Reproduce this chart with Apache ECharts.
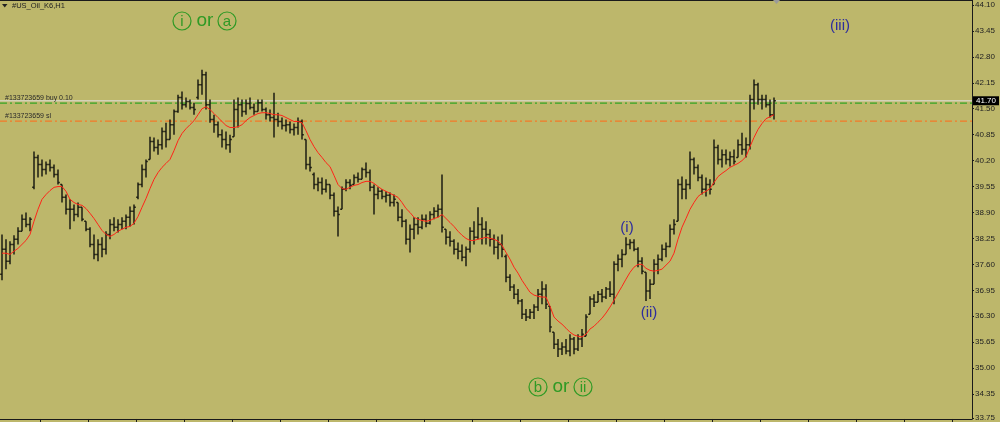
<!DOCTYPE html>
<html><head><meta charset="utf-8">
<script src="https://cdn.jsdelivr.net/npm/echarts@6/dist/echarts.min.js"></script>
<style>html,body{margin:0;padding:0;background:#BDB76B;}#c{width:1000px;height:422px;}</style>
</head><body><div id="c"></div>
<script>
// price axis tick labels
const tickLabels = [33.75, 34.35, 35.00, 35.65, 36.30, 36.95, 37.60, 38.25, 38.90, 39.55, 40.20, 40.85, 41.50, 42.15, 42.80, 43.45, 44.10];
// OHLC bars (H1)
const highs = [38.35,38.23,38.18,38.33,38.53,38.85,38.90,38.78,40.43,40.35,
40.23,40.18,40.23,40.10,39.98,39.60,39.35,39.23,39.10,39.15,
39.03,38.68,38.53,38.35,38.23,38.28,38.43,38.73,38.78,38.73,
38.78,38.85,39.05,39.10,39.65,40.10,40.23,40.80,40.78,40.73,
41.03,41.15,41.23,41.48,41.85,41.93,41.78,41.73,41.65,42.23,
42.48,42.43,41.73,41.35,41.18,40.98,40.93,40.85,41.73,41.78,
41.73,41.73,41.78,41.63,41.73,41.73,41.53,41.48,41.90,41.40,
41.28,41.23,41.18,41.13,41.28,41.23,40.73,40.30,39.90,39.78,
39.78,39.73,39.60,39.40,39.05,39.55,39.73,39.73,39.85,39.90,
40.03,40.15,39.98,39.60,39.53,39.48,39.43,39.40,39.35,39.15,
38.98,38.73,38.60,38.78,38.78,38.85,38.85,38.93,39.03,39.10,
39.85,38.48,38.43,38.23,38.15,38.10,38.05,38.53,38.68,39.03,
38.78,38.68,38.48,38.35,38.30,38.35,37.85,37.35,37.10,36.98,
36.73,36.48,36.48,36.60,36.98,37.18,37.10,36.55,35.90,35.73,
35.65,35.73,35.85,35.78,35.85,35.98,36.35,36.80,36.85,36.93,
36.98,37.03,37.18,37.68,37.85,37.98,38.28,38.23,38.23,38.03,
37.78,37.40,37.23,37.73,37.85,38.10,38.15,38.60,38.73,39.73,
39.80,39.73,40.43,40.28,40.10,39.85,39.78,39.73,40.73,40.60,
40.48,40.48,40.43,40.48,40.73,40.90,40.78,41.85,42.23,42.15,
41.85,41.85,41.73,41.78];
const lows = [37.20,37.48,37.60,37.85,38.10,38.43,38.53,38.43,39.48,39.78,
39.80,39.85,39.93,39.78,39.60,39.15,38.85,38.48,38.68,38.78,
38.68,38.43,38.03,37.73,37.68,37.78,37.85,38.23,38.43,38.40,
38.48,38.48,38.55,38.60,39.23,39.53,39.78,40.23,40.43,40.35,
40.48,40.53,40.73,40.85,41.40,41.48,41.53,41.48,41.35,41.73,
41.85,41.48,41.15,40.90,40.78,40.53,40.48,40.40,40.80,41.03,
41.30,41.35,41.48,41.35,41.43,41.43,41.23,41.18,40.78,41.05,
40.98,40.93,40.88,40.83,40.85,40.73,39.98,39.93,39.48,39.43,
39.35,39.40,39.23,38.80,38.30,38.98,39.43,39.48,39.60,39.65,
39.73,39.78,39.43,38.85,39.23,39.23,39.15,39.05,39.05,38.68,
38.53,38.10,37.90,38.23,38.35,38.48,38.53,38.60,38.73,38.78,
38.40,38.10,38.05,37.85,37.73,37.68,37.55,37.90,38.10,38.23,
38.10,38.10,38.05,37.85,37.73,37.78,37.15,36.93,36.73,36.60,
36.23,36.18,36.23,36.23,36.43,36.60,36.48,35.90,35.48,35.28,
35.33,35.35,35.30,35.35,35.43,35.53,35.80,36.35,36.53,36.65,
36.65,36.73,36.78,36.60,37.43,37.53,37.85,37.98,37.93,37.53,
37.35,36.68,36.73,37.10,37.35,37.68,37.78,38.03,38.35,38.68,
39.23,39.23,39.48,39.85,39.68,39.35,39.30,39.35,39.60,40.10,
40.03,40.10,40.05,40.10,40.28,40.35,40.28,40.48,41.48,41.60,
41.48,41.53,41.28,41.23];
const opens = [37.35,37.98,37.68,38.10,38.23,38.43,38.73,38.60,39.53,40.28,
40.10,39.98,40.10,40.03,39.85,39.60,39.28,38.98,38.98,38.85,
39.03,38.68,38.48,38.10,37.85,38.10,37.98,38.35,38.60,38.53,
38.60,38.68,38.78,38.93,39.28,39.60,39.98,40.23,40.68,40.53,
40.60,40.93,40.73,41.10,41.43,41.78,41.60,41.68,41.53,41.78,
42.10,42.35,41.60,41.23,41.10,40.85,40.73,40.60,40.80,41.48,
41.60,41.43,41.63,41.53,41.43,41.65,41.48,41.35,41.28,41.23,
41.18,41.08,41.10,40.98,41.03,41.18,40.73,40.10,39.85,39.60,
39.65,39.48,39.60,39.33,38.93,38.98,39.48,39.65,39.60,39.78,
39.73,39.98,39.90,39.53,39.35,39.43,39.30,39.33,39.15,39.15,
38.78,38.68,38.23,38.48,38.60,38.53,38.73,38.63,38.85,38.93,
38.98,38.48,38.28,38.18,37.98,37.93,37.78,37.98,38.43,38.28,
38.60,38.48,38.35,38.23,38.03,38.10,37.80,37.28,37.03,36.85,
36.68,36.35,36.28,36.40,36.53,36.85,36.98,36.55,35.90,35.60,
35.48,35.53,35.43,35.73,35.48,35.73,35.80,36.35,36.73,36.65,
36.85,36.78,36.98,36.85,37.60,37.73,37.85,38.10,38.15,37.98,
37.68,37.40,36.93,37.10,37.60,37.73,37.98,38.05,38.48,38.68,
39.60,39.48,39.60,40.23,40.03,39.78,39.48,39.60,39.60,40.53,
40.23,40.35,40.23,40.30,40.28,40.60,40.48,40.60,41.73,42.10,
41.73,41.73,41.60,41.35];
const closes = [37.98,37.68,38.10,38.23,38.43,38.73,38.60,38.73,40.28,40.10,
39.98,40.10,40.03,39.85,39.65,39.28,38.98,38.98,38.85,39.03,
38.73,38.48,38.10,37.85,38.10,37.98,38.35,38.60,38.53,38.60,
38.68,38.78,38.93,39.03,39.60,39.98,40.18,40.68,40.53,40.60,
40.93,40.73,41.10,41.43,41.78,41.60,41.68,41.53,41.48,42.10,
42.35,41.60,41.23,41.10,40.85,40.73,40.60,40.73,41.48,41.60,
41.43,41.63,41.53,41.43,41.65,41.48,41.35,41.28,41.23,41.18,
41.08,41.10,40.98,41.03,41.18,40.85,40.10,40.03,39.60,39.65,
39.48,39.60,39.33,38.93,38.85,39.48,39.65,39.58,39.78,39.73,
39.98,39.90,39.53,39.35,39.43,39.30,39.33,39.15,39.23,38.78,
38.68,38.23,38.48,38.60,38.53,38.73,38.63,38.85,38.93,38.98,
38.53,38.28,38.18,37.98,37.93,37.78,37.98,38.43,38.28,38.60,
38.48,38.35,38.23,38.03,38.10,37.98,37.28,37.03,36.85,36.68,
36.35,36.28,36.40,36.53,36.85,36.98,36.60,36.03,35.60,35.48,
35.53,35.43,35.73,35.48,35.73,35.85,36.28,36.73,36.65,36.85,
36.78,36.98,36.85,37.60,37.73,37.85,38.10,38.15,37.98,37.68,
37.43,36.93,37.10,37.60,37.73,37.98,38.05,38.48,38.60,39.60,
39.48,39.60,40.23,40.03,39.78,39.48,39.60,39.48,40.53,40.23,
40.35,40.23,40.30,40.18,40.60,40.48,40.60,41.73,42.10,41.73,
41.73,41.60,41.35,41.70];
// moving average (red)
const maValues = [37.88,37.88,37.85,37.93,38.00,38.10,38.20,38.35,38.68,38.98,
39.23,39.35,39.45,39.53,39.55,39.55,39.43,39.23,39.15,39.10,
39.08,39.00,38.88,38.75,38.60,38.45,38.35,38.30,38.35,38.43,
38.48,38.53,38.55,38.63,38.80,39.03,39.25,39.50,39.73,39.90,
40.03,40.13,40.23,40.45,40.70,40.88,41.00,41.10,41.20,41.35,
41.50,41.55,41.48,41.38,41.28,41.18,41.08,41.03,41.03,41.05,
41.10,41.20,41.28,41.33,41.38,41.40,41.40,41.38,41.35,41.35,
41.33,41.28,41.23,41.18,41.18,41.15,40.95,40.73,40.55,40.40,
40.28,40.15,40.05,39.83,39.60,39.50,39.48,39.53,39.58,39.60,
39.65,39.68,39.68,39.63,39.55,39.48,39.43,39.38,39.33,39.28,
39.15,39.00,38.90,38.78,38.73,38.70,38.68,38.70,38.75,38.78,
38.85,38.75,38.65,38.55,38.43,38.33,38.25,38.20,38.20,38.23,
38.25,38.28,38.25,38.23,38.18,38.08,37.90,37.73,37.53,37.38,
37.20,37.05,36.90,36.83,36.80,36.78,36.78,36.55,36.28,36.18,
36.10,36.00,35.90,35.83,35.80,35.78,35.85,35.98,36.05,36.15,
36.25,36.38,36.53,36.70,36.88,37.05,37.23,37.40,37.53,37.60,
37.60,37.50,37.45,37.43,37.45,37.48,37.58,37.68,37.88,38.23,
38.53,38.75,38.98,39.15,39.30,39.38,39.43,39.50,39.65,39.80,
39.88,39.95,40.03,40.08,40.13,40.20,40.30,40.55,40.78,40.98,
41.13,41.25,41.30,41.35];
// order lines
const bidPrice = 41.70;
const buyPrice = 41.64;
const slPrice = 41.19;
const totalSlots = 243;

const GREEN = '#2f9a25', BLUE = '#2d2d9e', BAR = '#1d1d12';
const barData = highs.map((h, i) => [i, opens[i], h, lows[i], closes[i]]);
const maData = maValues.map((v, i) => [i, v]);
const xTicks = [];
for (let k = 0; k < 20; k++) xTicks.push(9.5 + 12 * k);

const chart = echarts.init(document.getElementById('c'), null, {renderer: 'canvas'});
function circ(cx, cy, t) {
  return [
    {type: 'circle', shape: {cx: cx, cy: cy, r: 9}, style: {fill: 'none', stroke: GREEN, lineWidth: 1.2}, z: 100},
    {type: 'text', x: cx, y: cy + 0.5, style: {text: t, fill: GREEN, font: '15px "Liberation Sans"', textAlign: 'center', textVerticalAlign: 'middle'}, z: 100}
  ];
}
function txt(x, y, t, color, size, align) {
  return {type: 'text', x: x, y: y, style: {text: t, fill: color, font: size + 'px "Liberation Sans"', textAlign: align || 'center', textVerticalAlign: 'middle'}, z: 100};
}
const graphics = [].concat(
  circ(182, 21, 'i'), [txt(205, 21, 'or', GREEN, 19)], circ(227, 21, 'a'),
  circ(538, 387, 'b'), [txt(561, 387, 'or', GREEN, 19)], circ(583, 387, 'ii'),
  [txt(627, 228, '(i)', BLUE, 15), txt(649, 313, '(ii)', BLUE, 15), txt(840, 26, '(iii)', BLUE, 15)],
  [
    {type: 'line', shape: {x1: 0, y1: 0.5, x2: 972, y2: 0.5}, style: {stroke: '#1a1a1a', lineWidth: 1}, z: 100},
    {type: 'polygon', shape: {points: [[2, 4], [7.5, 4], [4.75, 7.5]]}, style: {fill: '#222'}, z: 100},
    txt(12, 6, '#US_Oil_K6,H1', '#222', 7.5, 'left'),
    {type: 'polygon', shape: {points: [[773, 0], [780, 0], [776.5, 4]]}, style: {fill: '#9a9a9a'}, z: 100}
  ]
);

function levelSeries(price, color, width, dash, label) {
  return {
    type: 'line', silent: true, z: 4, symbol: 'none', showSymbol: false,
    data: [[-0.5, price], [totalSlots - 0.5, price]],
    lineStyle: {color: color, width: width, type: dash},
    endLabel: label
  };
}

chart.setOption({
  animation: false,
  backgroundColor: '#BDB76B',
  grid: {left: 0, right: 28, top: 0, bottom: 2, containLabel: false},
  xAxis: {
    type: 'value', min: -0.5, max: totalSlots - 0.5,
    axisLine: {show: true, onZero: false, lineStyle: {color: '#1a1a1a', width: 1}},
    axisTick: {show: true, customValues: xTicks, length: 3, inside: false, lineStyle: {color: '#1a1a1a'}},
    axisLabel: {show: false}, splitLine: {show: false}
  },
  yAxis: {
    type: 'value', position: 'right', min: 33.725, max: 44.225,
    axisLine: {show: true, onZero: false, lineStyle: {color: '#1a1a1a', width: 1}},
    axisTick: {show: true, customValues: tickLabels, length: 2, lineStyle: {color: '#1a1a1a'}},
    axisLabel: {show: true, customValues: tickLabels, margin: 3, fontSize: 8, fontFamily: 'Liberation Sans', color: '#222',
      formatter: v => v.toFixed(2)},
    splitLine: {show: false}
  },
  series: [
    levelSeries(bidPrice, '#d4d2b8', 1.6, 'solid',
      {show: true, formatter: bidPrice.toFixed(2), backgroundColor: '#000', color: '#fff',
       fontSize: 8, fontFamily: 'Liberation Sans', padding: [1, 3, 0, 3], distance: 1}),
    levelSeries(buyPrice, '#35a526', 1.3, [7, 3, 2, 3], {show: false}),
    levelSeries(slPrice, '#f47a28', 1.3, [7, 3, 2, 3], {show: false}),
    {
      type: 'custom', data: barData, encode: {x: 0, y: [1, 2, 3, 4]}, z: 5, clip: true,
      renderItem: function (params, api) {
        const i = api.value(0);
        const pH = api.coord([i, api.value(2)]);
        const pL = api.coord([i, api.value(3)]);
        const pO = api.coord([i, api.value(1)]);
        const pC = api.coord([i, api.value(4)]);
        const x = pH[0];
        const st = {stroke: BAR, lineWidth: 1.5};
        return {type: 'group', children: [
          {type: 'line', shape: {x1: x, y1: pH[1], x2: x, y2: pL[1]}, style: st},
          {type: 'line', shape: {x1: x - 1.8, y1: pO[1], x2: x, y2: pO[1]}, style: st},
          {type: 'line', shape: {x1: x, y1: pC[1], x2: x + 1.8, y2: pC[1]}, style: st}
        ]};
      }
    },
    {
      type: 'line', data: maData, showSymbol: false, symbol: 'none', z: 6,
      lineStyle: {color: '#ff2418', width: 1}, silent: true
    }
  ]
});

// order labels placed through the axis scale
const pBuy = chart.convertToPixel({gridIndex: 0}, [-0.5, buyPrice]);
const pSl = chart.convertToPixel({gridIndex: 0}, [-0.5, slPrice]);
graphics.push(txt(5, pBuy[1] - 5, '#133723659 buy 0.10', '#2a2a2a', 7, 'left'));
graphics.push(txt(5, pSl[1] - 5, '#133723659 sl', '#2a2a2a', 7, 'left'));
chart.setOption({graphic: graphics});
</script></body></html>
